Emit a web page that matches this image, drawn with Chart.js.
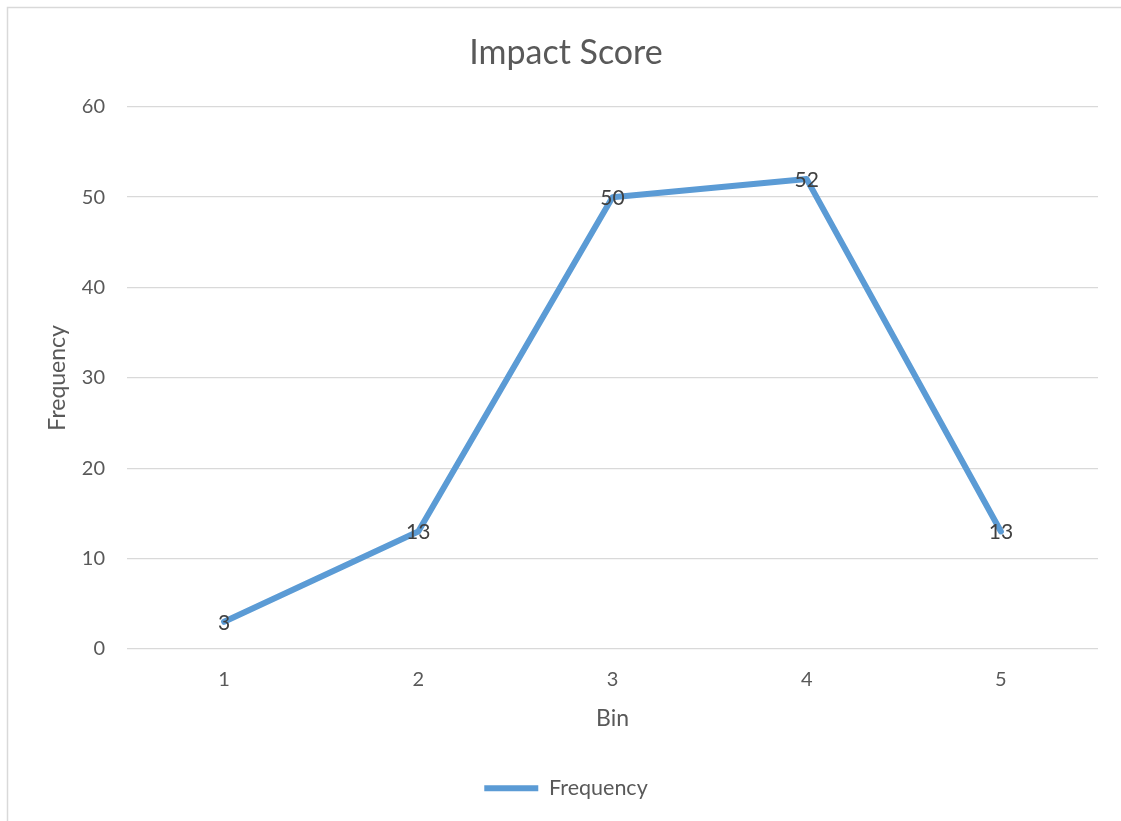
<!DOCTYPE html>
<html>
<head>
<meta charset="utf-8">
<script src="https://cdn.jsdelivr.net/npm/chart.js@4.4.1/dist/chart.umd.min.js"></script>
<style>
  html, body { margin: 0; padding: 0; background: #ffffff; }
  #wrap { width: 1121px; height: 821px; position: relative; }
</style>
</head>
<body>
<div id="wrap"><canvas id="c" width="1121" height="821"></canvas></div>
<script>
const bins = ['1', '2', '3', '4', '5'];
const frequency = [3, 13, 50, 52, 13];
const yTicks = [0, 10, 20, 30, 40, 50, 60];

const FONT = 'Lato, "Open Sans", sans-serif';
const TEXT = '#595959';

// Thin grey frame around the chart area
const framePlugin = {
  id: 'frame',
  beforeDraw(chart) {
    const ctx = chart.ctx;
    ctx.save();
    ctx.fillStyle = '#ffffff';
    ctx.fillRect(0, 0, chart.width, chart.height);
    ctx.strokeStyle = '#d9d9d9';
    ctx.lineWidth = 1.5;
    ctx.strokeRect(7.5, 7.5, chart.width + 20, chart.height + 20);
    ctx.restore();
  }
};

// Value labels centred on each point
const valueLabels = {
  id: 'valueLabels',
  afterDatasetsDraw(chart) {
    const ctx = chart.ctx;
    ctx.save();
    ctx.font = '21px ' + FONT;
    ctx.fillStyle = '#404040';
    ctx.textAlign = 'center';
    ctx.textBaseline = 'middle';
    chart.data.datasets.forEach((ds, i) => {
      chart.getDatasetMeta(i).data.forEach((pt, j) => {
        ctx.fillText(String(ds.data[j]), pt.x, pt.y + 1);
      });
    });
    ctx.restore();
  }
};

new Chart(document.getElementById('c'), {
  type: 'line',
  data: {
    labels: bins,
    datasets: [{
      label: 'Frequency',
      data: frequency,
      borderColor: '#5b9bd5',
      backgroundColor: '#5b9bd5',
      borderWidth: 6,
      borderCapStyle: 'round',
      borderJoinStyle: 'round',
      pointRadius: 0,
      pointHoverRadius: 0,
      tension: 0,
      fill: false
    }]
  },
  options: {
    responsive: false,
    animation: false,
    devicePixelRatio: 1,
    layout: { padding: { left: 34, right: 23, top: 33, bottom: 12 } },
    plugins: {
      title: {
        display: true,
        text: 'Impact Score',
        color: TEXT,
        font: { family: FONT, size: 34, weight: 'normal' },
        padding: { top: 0, bottom: 33 }
      },
      legend: {
        display: true,
        position: 'bottom',
        labels: {
          color: TEXT,
          font: { family: FONT, size: 21.5 },
          usePointStyle: true,
          pointStyle: 'line',
          pointStyleWidth: 54,
          padding: 10
        }
      },
      tooltip: { enabled: false }
    },
    scales: {
      x: {
        offset: true,
        grid: { display: false },
        border: { display: false },
        ticks: { color: TEXT, font: { family: FONT, size: 20 }, padding: 11 },
        title: {
          display: true,
          text: 'Bin',
          color: TEXT,
          font: { family: FONT, size: 23 },
          padding: { top: 2, bottom: 35 }
        }
      },
      y: {
        min: 0,
        max: 60,
        afterBuildTicks(scale) { scale.ticks = yTicks.map(v => ({ value: v })); },
        afterFit(scale) { scale.width = 93; },
        grid: { color: '#d9d9d9', lineWidth: 1.3, drawTicks: false },
        border: { display: false },
        ticks: { color: TEXT, font: { family: FONT, size: 20 }, padding: 22 },
        title: {
          display: true,
          text: 'Frequency',
          color: TEXT,
          font: { family: FONT, size: 23 },
          padding: { top: 10, bottom: 10 }
        }
      }
    }
  },
  plugins: [framePlugin, valueLabels]
});
</script>
</body>
</html>
